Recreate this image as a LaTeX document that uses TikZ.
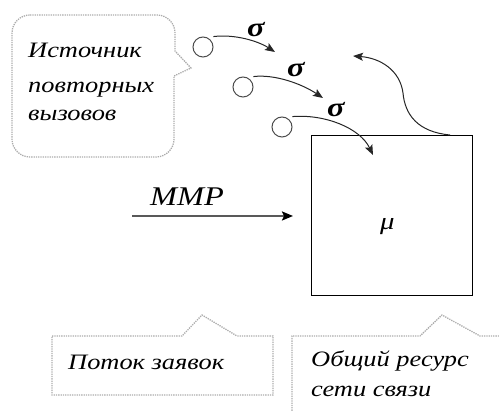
\documentclass[tikz,border=0pt]{standalone}
\usepackage{fontspec}
\newfontfamily\cf[FakeStretch=1.2]{Liberation Serif}
\usetikzlibrary{arrows.meta}
\begin{document}
\begin{tikzpicture}[x=1pt,y=-1pt,
  callout/.style={draw=gray!65, densely dotted, line width=1.3pt},
  txt/.style={font=\cf\itshape\fontsize{22}{26}\selectfont, anchor=base west, inner sep=0pt},
  bigtxt/.style={font=\cf\itshape\fontsize{27}{30}\selectfont, anchor=base west, inner sep=0pt},
  greek/.style={font=\cf\itshape\bfseries\fontsize{27}{30}\selectfont, anchor=base west, inner sep=0pt},
  arr/.style={-{Stealth[length=10pt,width=8pt,inset=2pt]}, line width=1pt, draw=black!85},
  bead/.style={circle, draw=black!70, line width=1pt, minimum size=20pt, inner sep=0pt}]
\useasboundingbox (0,0) rectangle (499,411);

% callouts
\draw[callout] (30,15) -- (157,15) arc[start angle=-90,end angle=0,radius=18]
  -- (175,51) -- (191,68) -- (174,76) -- (174,139) arc[start angle=0,end angle=90,radius=18]
  -- (30,157) arc[start angle=90,end angle=180,radius=18]
  -- (12,33) arc[start angle=180,end angle=270,radius=18] -- cycle;
\draw[callout] (52,336) -- (182,336) -- (202,315) -- (237,336) -- (273,336) -- (273,395) -- (52,395) -- cycle;
\draw[callout] (292,420) -- (292,336) -- (420,336) -- (442,315) -- (480,336) -- (510,336);

\node[txt] (src1) at (28,58) {Источник};
\node[txt] (src2) at (28,93) {повторных};
\node[txt] (src3) at (28,121) {вызовов};
\node[txt] (flow) at (68,370) {Поток заявок};
\node[txt] (res1) at (311,367) {Общий ресурс};
\node[txt] (res2) at (311,397) {сети связи};

% resource box
\node[draw, line width=1.1pt, minimum width=161pt, minimum height=160pt, inner sep=0pt, anchor=north west] (res) at (311,135) {};
\node[font=\cf\itshape\fontsize{24}{26}\selectfont, anchor=base west, inner sep=0pt] (mu) at (380,230) {μ};

% MMP flow
\coordinate (mmpstart) at (132,216);
\coordinate (mmpend) at (293,216);
\draw[-{Stealth[length=11pt,width=9pt,inset=2pt,color=black]}, draw=gray!70!black, line width=2pt] (mmpstart) -- (mmpend);
\node[bigtxt] (mmp) at (150,206) {MMP};

% retrial beads
\node[bead] (c1) at (203,47) {};
\node[bead] (c2) at (243,87) {};
\node[bead] (c3) at (282,127) {};
\coordinate (e1) at (275,52);
\coordinate (e2) at (323,98);
\coordinate (e3) at (373,155);
\draw[arr] ([shift={(3,-3)}]c1.north east) .. controls (235,34) and (258,41) .. (e1);
\draw[arr] ([shift={(3,-3)}]c2.north east) .. controls (275,74) and (302,84) .. (e2);
\draw[arr] ([shift={(3,-3)}]c3.north east) .. controls (325,114) and (360,128) .. (e3);
\node[greek] (s1) at (247,37) {σ};
\node[greek] (s2) at (287,77) {σ};
\node[greek] (s3) at (327,117) {σ};

% return to orbit
\coordinate (ret) at (353,56);
\draw[arr] ([xshift=139pt]res.north west) .. controls (418,132) and (405,115) .. (403,93)
  .. controls (400,70) and (380,58) .. (ret);
\end{tikzpicture}
\end{document}
